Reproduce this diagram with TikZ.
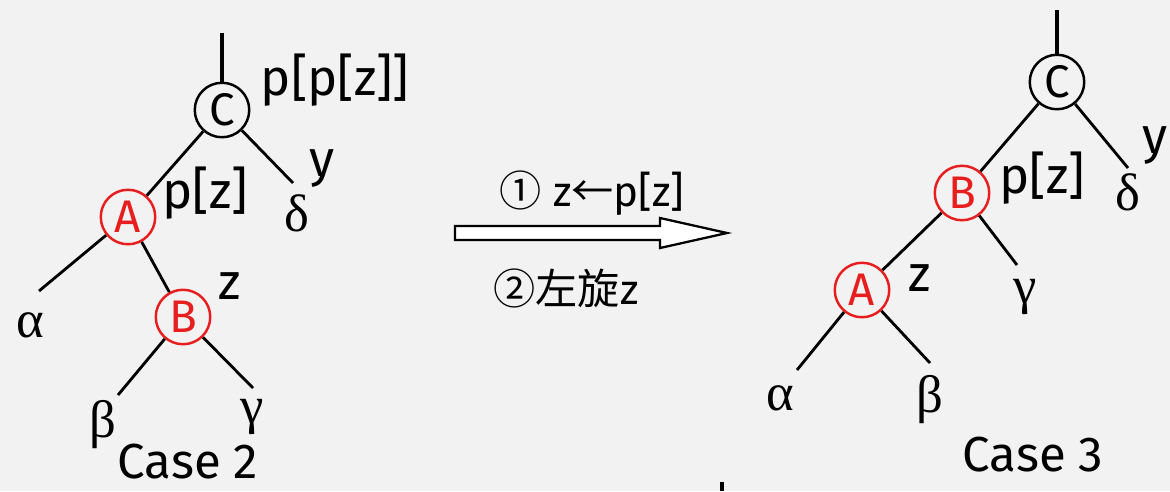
\documentclass[tikz,border=0pt]{standalone}
\usepackage{fontspec}
\setmainfont{Fira Sans}
\newfontfamily\greekfont{Liberation Serif}
\newfontfamily\cjk{Noto Sans CJK SC}
\usetikzlibrary{positioning}
\definecolor{paper}{RGB}{242,242,242}
\definecolor{rbred}{RGB}{232,30,30}
\tikzset{
  rbnode/.style={circle, draw, line width=1.4pt, fill=paper,
                 minimum size=31pt, inner sep=0pt,
                 font=\fontsize{26}{26}\selectfont},
  rednode/.style={rbnode, draw=rbred, text=rbred},
  edge/.style={line width=1.6pt},
  stem/.style={line width=2.2pt},
  lbl/.style={font=\fontsize{29}{30}\selectfont, inner sep=0pt},
  leaf/.style={font=\greekfont\fontsize{30}{30}\selectfont, inner sep=0pt},
  casetxt/.style={font=\fontsize{28}{30}\selectfont, inner sep=0pt},
  steptxt/.style={font=\fontsize{24}{26}\selectfont, inner sep=0pt},
}

\begin{document}
\begin{tikzpicture}[x=0.2mm, y=-0.2mm]
  \fill[paper] (0,0) rectangle (1170,491);
  \useasboundingbox (0,0) rectangle (1170,491);

  % case 2
  \node[rbnode] (C1) at (222,110) {C};
  \node[rednode] (A1) at (128,217) {A};
  \node[rednode] (B1) at (183,317) {B};
  \coordinate (c1top) at (222,33);
  \coordinate (d1end) at (293,183);
  \coordinate (a1end) at (39,291);
  \coordinate (b1end) at (118,395);
  \coordinate (g1end) at (253,388);

  \draw[stem] (C1) -- (c1top);
  \draw[edge] (C1) -- (A1);
  \draw[edge] (C1) -- (d1end);
  \draw[edge] (A1) -- (a1end);
  \draw[edge] (A1) -- (B1);
  \draw[edge] (B1) -- (b1end);
  \draw[edge] (B1) -- (g1end);

  \node[leaf] (delta1) at (297,213) {δ};
  \node[leaf] (alpha1) at (30,325) {α};
  \node[leaf] (beta1) at (103,425) {β};
  \node[leaf] (gamma1) at (252,417) {γ};
  \node[lbl] (y1) at (322,168) {y};
  \node[lbl] (ppz) at (335,80) {p[p[z]]};
  \node[lbl] (pz1) at (205,193) {p[z]};
  \node[lbl] (z1) at (230,286) {z};
  \node[casetxt] (case2) at (188,462) {Case 2};

  % transition
  \draw[line width=1.3pt, fill=white]
    (455,226) -- (660,226) -- (660,218) -- (727,233)
    -- (660,248) -- (660,240) -- (455,240) -- cycle;
  \node[steptxt] (step1) at (592,193) {{\cjk ①} z{\cjk ←}p[z]};
  \node[steptxt] (step2) at (566,288) {{\cjk ②左旋}z};
  \draw[stem] (722,482) -- (722,491);

  % case 3
  \node[rbnode] (C2) at (1057,82) {C};
  \node[rednode] (B2) at (962,193) {B};
  \node[rednode] (A2) at (862,290) {A};
  \coordinate (c2top) at (1057,10);
  \coordinate (d2end) at (1128,168);
  \coordinate (g2end) at (1017,265);
  \coordinate (a2end) at (797,370);
  \coordinate (b2end) at (930,363);

  \draw[stem] (C2) -- (c2top);
  \draw[edge] (C2) -- (B2);
  \draw[edge] (C2) -- (d2end);
  \draw[edge] (B2) -- (A2);
  \draw[edge] (B2) -- (g2end);
  \draw[edge] (A2) -- (a2end);
  \draw[edge] (A2) -- (b2end);

  \node[leaf] (delta2) at (1128,192) {δ};
  \node[leaf] (gamma2) at (1025,297) {γ};
  \node[leaf] (alpha2) at (780,398) {α};
  \node[leaf] (beta2) at (930,400) {β};
  \node[lbl] (y2) at (1155,145) {y};
  \node[lbl] (pz2) at (1042,178) {p[z]};
  \node[lbl] (z2) at (920,278) {z};
  \node[casetxt] (case3) at (1033,455) {Case 3};
\end{tikzpicture}
\end{document}
